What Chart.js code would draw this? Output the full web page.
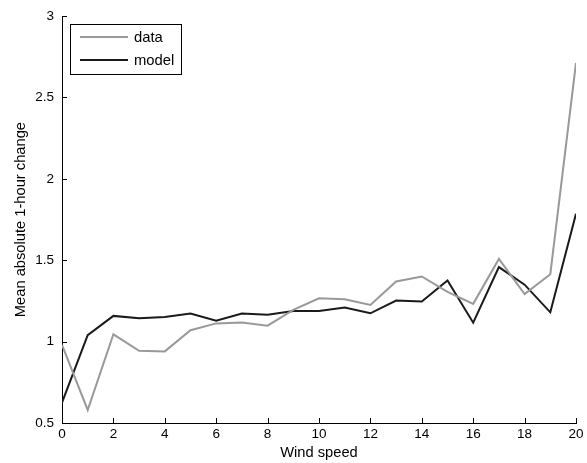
<!DOCTYPE html>
<html>
<head>
<meta charset="utf-8">
<script src="https://cdn.jsdelivr.net/npm/chart.js@4"></script>
<style>
html,body{margin:0;padding:0;background:#fff;}
#wrap{width:587px;height:463px;}
</style>
</head>
<body>
<div id="wrap"><canvas id="c" width="587" height="463"></canvas></div>
<script>
const windSpeed = [0,1,2,3,4,5,6,7,8,9,10,11,12,13,14,15,16,17,18,19,20];
const dataValues = [0.98,0.58,1.045,0.944,0.940,1.070,1.112,1.118,1.098,1.195,1.266,1.260,1.225,1.370,1.400,1.305,1.232,1.508,1.292,1.414,2.712];
const modelValues = [0.625,1.040,1.158,1.144,1.151,1.172,1.128,1.172,1.165,1.188,1.188,1.210,1.174,1.252,1.247,1.375,1.116,1.458,1.350,1.180,1.786];
const xTickStep = 2;
const yTickStep = 0.5;

const FAMILY = "'Liberation Sans', Arial, sans-serif";
const TICK_FONT = {family: FAMILY, size: 13.5};
const TITLE_FONT = {family: FAMILY, size: 14.7};
const LEGEND_FONT = {family: FAMILY, size: 14.8};

const innerTicks = {
  id: 'innerTicks',
  afterDraw(chart) {
    const ctx = chart.ctx;
    const xs = chart.scales.x, ys = chart.scales.y;
    ctx.save();
    ctx.strokeStyle = '#000';
    ctx.lineWidth = 1;
    ctx.beginPath();
    xs.ticks.forEach(t => {
      const px = Math.round(xs.getPixelForValue(t.value)) + 0.5;
      ctx.moveTo(px, ys.bottom);
      ctx.lineTo(px, ys.bottom - 5);
    });
    ys.ticks.forEach(t => {
      const py = Math.round(ys.getPixelForValue(t.value)) + 0.5;
      ctx.moveTo(xs.left, py);
      ctx.lineTo(xs.left + 5, py);
    });
    ctx.stroke();
    ctx.restore();
  }
};

const boxLegend = {
  id: 'boxLegend',
  afterDraw(chart) {
    const ctx = chart.ctx;
    const x0 = 70.5, y0 = 24.5, w = 111, h = 50;
    ctx.save();
    ctx.fillStyle = '#fff';
    ctx.fillRect(x0, y0, w, h);
    ctx.strokeStyle = '#000';
    ctx.lineWidth = 1;
    ctx.strokeRect(x0, y0, w, h);
    ctx.font = LEGEND_FONT.size + "px " + LEGEND_FONT.family;
    ctx.textBaseline = 'middle';
    ctx.textAlign = 'left';
    chart.data.datasets.forEach((ds, i) => {
      const y = 37 + i * 23;
      ctx.strokeStyle = ds.borderColor;
      ctx.lineWidth = 2;
      ctx.beginPath();
      ctx.moveTo(80, y);
      ctx.lineTo(128, y);
      ctx.stroke();
      ctx.fillStyle = '#000';
      ctx.fillText(ds.label, 134, y + 0.5);
    });
    ctx.restore();
  }
};

const fmt = v => String(Math.round(v * 100) / 100);

new Chart(document.getElementById('c'), {
  type: 'line',
  data: {
    datasets: [
      {label: 'data', data: windSpeed.map((x, i) => ({x, y: dataValues[i]})), borderColor: '#999999', borderWidth: 2, pointRadius: 0, tension: 0, fill: false},
      {label: 'model', data: windSpeed.map((x, i) => ({x, y: modelValues[i]})), borderColor: '#1a1a1a', borderWidth: 2, pointRadius: 0, tension: 0, fill: false}
    ]
  },
  options: {
    responsive: false,
    animation: false,
    layout: {padding: {top: 16, right: 11, left: 0, bottom: 0}},
    plugins: {legend: {display: false}, tooltip: {enabled: false}},
    scales: {
      x: {
        type: 'linear', min: 0, max: 20,
        grid: {display: false, drawTicks: false},
        border: {display: true, color: '#000', width: 1},
        ticks: {stepSize: xTickStep, color: '#000', font: TICK_FONT, padding: 3, maxRotation: 0, callback: fmt},
        title: {display: true, text: 'Wind speed', color: '#000', font: TITLE_FONT, padding: {top: 0, bottom: 1}},
        afterFit(s) { s.height = 40; }
      },
      y: {
        type: 'linear', min: 0.5, max: 3,
        grid: {display: false, drawTicks: false},
        border: {display: true, color: '#000', width: 1},
        ticks: {stepSize: yTickStep, color: '#000', font: TICK_FONT, padding: 8, callback: fmt},
        title: {display: true, text: 'Mean absolute 1-hour change', color: '#000', font: TITLE_FONT, padding: {top: 12, bottom: 0}},
        afterFit(s) { s.width = 62; }
      }
    }
  },
  plugins: [innerTicks, boxLegend]
});
</script>
</body>
</html>
